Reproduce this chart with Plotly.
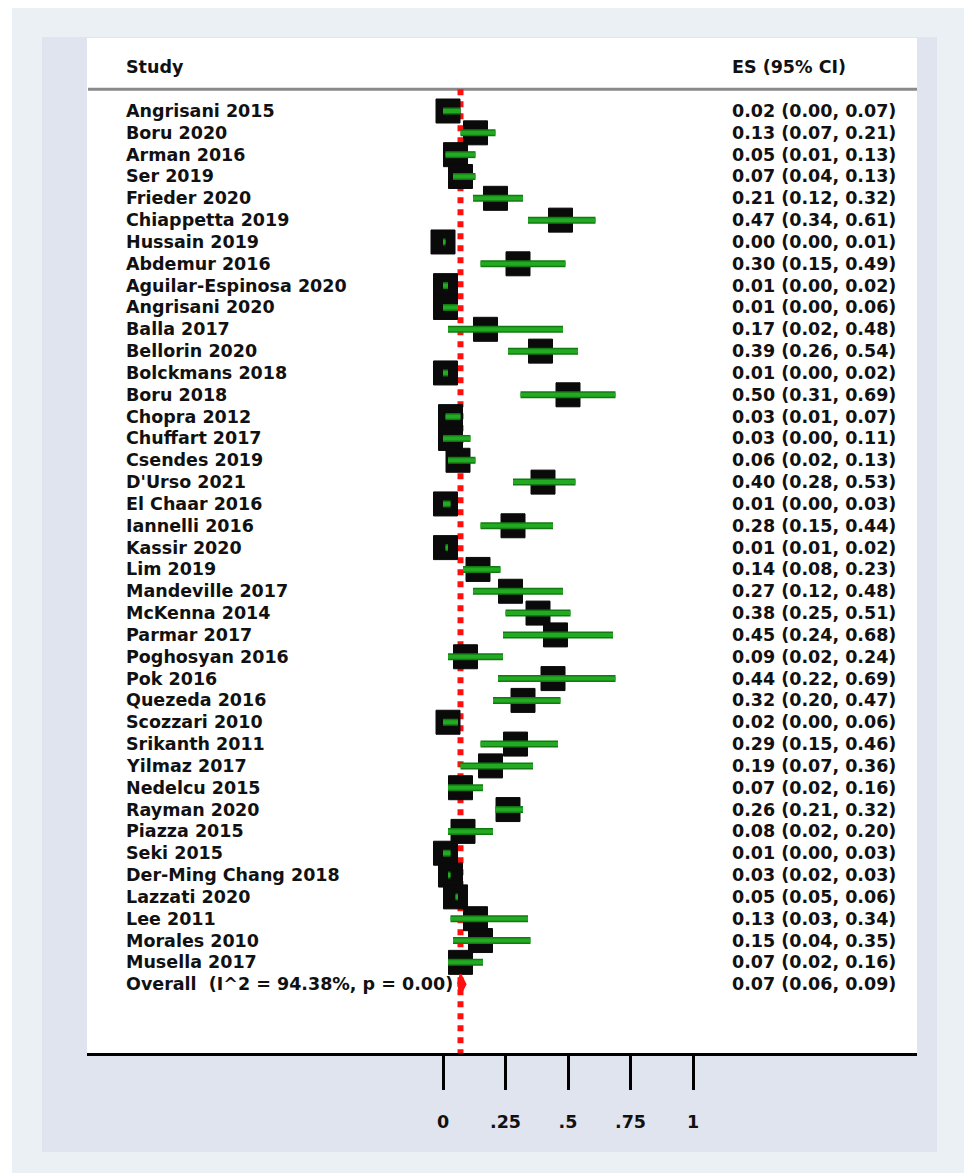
import plotly.graph_objects as go

studies = ["Angrisani 2015", "Boru 2020", "Arman 2016", "Ser 2019", "Frieder 2020",
           "Chiappetta 2019", "Hussain 2019", "Abdemur 2016", "Aguilar-Espinosa 2020",
           "Angrisani 2020", "Balla 2017", "Bellorin 2020", "Bolckmans 2018", "Boru 2018",
           "Chopra 2012", "Chuffart 2017", "Csendes 2019", "D'Urso 2021", "El Chaar 2016",
           "Iannelli 2016", "Kassir 2020", "Lim 2019", "Mandeville 2017", "McKenna 2014",
           "Parmar 2017", "Poghosyan 2016", "Pok 2016", "Quezeda 2016", "Scozzari 2010",
           "Srikanth 2011", "Yilmaz 2017", "Nedelcu 2015", "Rayman 2020", "Piazza 2015",
           "Seki 2015", "Der-Ming Chang 2018", "Lazzati 2020", "Lee 2011", "Morales 2010",
           "Musella 2017"]
es = [0.02, 0.13, 0.05, 0.07, 0.21, 0.47, 0.00, 0.30, 0.01, 0.01, 0.17, 0.39, 0.01, 0.50,
      0.03, 0.03, 0.06, 0.40, 0.01, 0.28, 0.01, 0.14, 0.27, 0.38, 0.45, 0.09, 0.44, 0.32,
      0.02, 0.29, 0.19, 0.07, 0.26, 0.08, 0.01, 0.03, 0.05, 0.13, 0.15, 0.07]
ci_low = [0.00, 0.07, 0.01, 0.04, 0.12, 0.34, 0.00, 0.15, 0.00, 0.00, 0.02, 0.26, 0.00, 0.31,
          0.01, 0.00, 0.02, 0.28, 0.00, 0.15, 0.01, 0.08, 0.12, 0.25, 0.24, 0.02, 0.22, 0.20,
          0.00, 0.15, 0.07, 0.02, 0.21, 0.02, 0.00, 0.02, 0.05, 0.03, 0.04, 0.02]
ci_high = [0.07, 0.21, 0.13, 0.13, 0.32, 0.61, 0.01, 0.49, 0.02, 0.06, 0.48, 0.54, 0.02, 0.69,
           0.07, 0.11, 0.13, 0.53, 0.03, 0.44, 0.02, 0.23, 0.48, 0.51, 0.68, 0.24, 0.69, 0.47,
           0.06, 0.46, 0.36, 0.16, 0.32, 0.20, 0.03, 0.03, 0.06, 0.34, 0.35, 0.16]
overall_label = "Overall  (I^2 = 94.38%, p = 0.00)"
overall_es = 0.07
overall_low = 0.06
overall_high = 0.09
tick_vals = [0, 0.25, 0.5, 0.75, 1]
tick_text = ["0", ".25", ".5", ".75", "1"]

W, H = 964, 1173
L, R, T, B = 87, 917, 38, 1053           # plot area pixels
px_per_unit = 250.0
x0_pix = 443.0
x_range = [(L - x0_pix) / px_per_unit, (R - x0_pix) / px_per_unit]
row_h = 21.83
first_row_pix = 111.0
y_top = (T - first_row_pix) / row_h
y_bot = (B - first_row_pix) / row_h

FONT = "DejaVu Sans"
FS = 17.5
n = len(studies)
rows = list(range(n))
overall_row = n

fig = go.Figure()

# red dashed line at overall estimate
fig.add_trace(go.Scatter(x=[overall_es, overall_es], y=[-1, y_bot], mode="lines",
                         line=dict(color="#ff1010", width=6, dash="6px,6px"),
                         hoverinfo="skip", showlegend=False))

# study boxes
fig.add_trace(go.Scatter(x=es, y=rows, mode="markers",
                         marker=dict(symbol="square", size=24, color="#0a0a0a",
                                     line=dict(width=1, color="#0a0a0a")),
                         showlegend=False))

# CI lines
cx, cy = [], []
for lo, hi, r in zip(ci_low, ci_high, rows):
    cx += [lo, hi, None]
    cy += [r, r, None]
fig.add_trace(go.Scatter(x=cx, y=cy, mode="lines",
                         line=dict(color="#137a13", width=7),
                         hoverinfo="skip", showlegend=False))
fig.add_trace(go.Scatter(x=cx, y=cy, mode="lines",
                         line=dict(color="#22aa22", width=4),
                         hoverinfo="skip", showlegend=False))

# overall diamond
fig.add_trace(go.Scatter(x=[overall_low, overall_es, overall_high, overall_es, overall_low],
                         y=[overall_row, overall_row - 0.45, overall_row, overall_row + 0.45, overall_row],
                         mode="lines", fill="toself", fillcolor="#ff1010",
                         line=dict(color="#ff1010", width=2), showlegend=False))

def xp(pix):
    return (pix - L) / (R - L)

def yp(pix):
    return (B - pix) / (B - T)

shapes = [
    dict(type="rect", xref="paper", yref="paper", x0=xp(12), x1=xp(W + 5), y0=yp(8), y1=yp(H + 5),
         fillcolor="#eaf0f3", line=dict(width=0), layer="below"),
    dict(type="rect", xref="paper", yref="paper", x0=xp(42), x1=xp(937), y0=yp(37), y1=yp(1152),
         fillcolor="#e0e4ee", line=dict(width=0), layer="below"),
    dict(type="rect", xref="paper", yref="paper", x0=0, x1=1, y0=0, y1=yp(38),
         fillcolor="white", line=dict(width=0), layer="below"),
    dict(type="line", xref="paper", yref="y", x0=xp(88), x1=1, y0=-1, y1=-1,
         line=dict(color="#8a8a8a", width=3), layer="below"),
]

ann = []
def txt(x, y, s):
    ann.append(dict(x=xp(x), y=y, xref="paper", yref="y", text=s, showarrow=False,
                    xanchor="left", yanchor="middle",
                    font=dict(family=FONT, size=FS, color="#111111", weight="bold")))

txt(124, -2, "Study")
txt(730, -2, "ES (95% CI)")
for s, e, lo, hi, r in zip(studies, es, ci_low, ci_high, rows):
    txt(124, r, s)
    txt(730, r, f"{e:.2f} ({lo:.2f}, {hi:.2f})")
txt(124, overall_row, overall_label)
txt(730, overall_row, f"{overall_es:.2f} ({overall_low:.2f}, {overall_high:.2f})")

fig.update_layout(
    width=W, height=H,
    margin=dict(l=L, r=W - R, t=T, b=H - B, pad=0),
    paper_bgcolor="white", plot_bgcolor="rgba(0,0,0,0)",
    shapes=shapes, annotations=ann, showlegend=False,
    xaxis=dict(range=x_range, showgrid=False, zeroline=False, showline=True,
               linecolor="black", linewidth=3, ticks="outside", ticklen=34,
               tickwidth=3, tickcolor="black", tickvals=tick_vals, ticktext=tick_text,
               ticklabelstandoff=17,
               tickfont=dict(family=FONT, size=FS, color="#111111", weight="bold"),
               fixedrange=True),
    yaxis=dict(range=[y_bot, y_top], visible=False, fixedrange=True),
)

fig.write_html("out.html", config={"displayModeBar": False},
               post_script="document.body.style.margin='0';document.body.style.padding='0';")
